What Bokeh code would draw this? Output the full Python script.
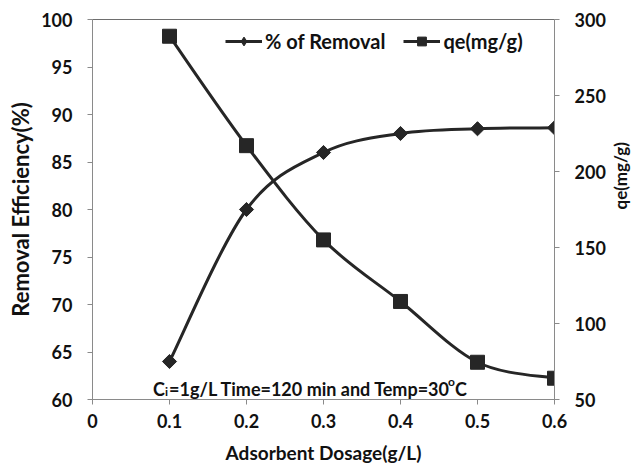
import math
from bokeh.plotting import figure
from bokeh.models import (Range1d, LinearAxis, FixedTicker, Legend, LegendItem, Label)
from bokeh.embed import file_html
from bokeh.resources import INLINE

# ---- data ----
dosage = [0.1, 0.2, 0.3, 0.4, 0.5, 0.6]
removal = [64.0, 80.0, 86.0, 88.0, 88.5, 88.6]
qe = [289.0, 217.0, 155.0, 114.5, 74.5, 64.0]
x_ticks = [0, 0.1, 0.2, 0.3, 0.4, 0.5, 0.6]
left_ticks = [60, 65, 70, 75, 80, 85, 90, 95, 100]
right_ticks = [50, 100, 150, 200, 250, 300]
x_label = "Adsorbent Dosage(g/L)"
left_label = "Removal Efficiency(%)"
right_label = "qe(mg/g)"
series_names = ["% of Removal", "qe(mg/g)"]

FONT = "Lato"
INK = "#262626"
AXC = "#8a8a8a"
TXT = "#111111"


def smooth_segments(xs, ys):
    """Bezier control points (Catmull-Rom style) for a smoothed line through the data."""
    n = len(xs)
    seg = dict(x0=[], y0=[], x1=[], y1=[], cx0=[], cy0=[], cx1=[], cy1=[])
    for i in range(n - 1):
        pxm, pym = (xs[i - 1], ys[i - 1]) if i > 0 else (xs[i], ys[i])
        pxp, pyp = (xs[i + 2], ys[i + 2]) if i + 2 < n else (xs[i + 1], ys[i + 1])
        seg["x0"].append(xs[i]); seg["y0"].append(ys[i])
        seg["x1"].append(xs[i + 1]); seg["y1"].append(ys[i + 1])
        seg["cx0"].append(xs[i] + (xs[i + 1] - pxm) / 6.0)
        seg["cy0"].append(ys[i] + (ys[i + 1] - pym) / 6.0)
        seg["cx1"].append(xs[i + 1] - (pxp - xs[i]) / 6.0)
        seg["cy1"].append(ys[i + 1] - (pyp - ys[i]) / 6.0)
    return seg


p = figure(width=644, height=469, x_range=Range1d(0, 0.6), y_range=Range1d(60, 100),
           output_backend="svg", toolbar_location=None,
           min_border_left=92, min_border_right=87, min_border_top=19, min_border_bottom=70)
p.extra_y_ranges = {"right": Range1d(50, 300)}
p.xgrid.visible = False
p.ygrid.visible = False
p.outline_line_color = "#6e6e6e"
p.outline_line_width = 1
p.background_fill_color = "white"
p.border_fill_color = "white"

# axes
xa = p.xaxis[0]
xa.ticker = FixedTicker(ticks=x_ticks)
xa.major_label_overrides = {0: "0"}
ya = p.yaxis[0]
ya.ticker = FixedTicker(ticks=left_ticks)
ra = LinearAxis(y_range_name="right", ticker=FixedTicker(ticks=right_ticks))
p.add_layout(ra, "right")

xa.axis_label = x_label
ya.axis_label = left_label
ra.axis_label = right_label

for ax in (xa, ya, ra):
    ax.axis_line_color = AXC
    ax.axis_line_width = 1
    ax.major_tick_line_color = AXC
    ax.major_tick_in = 0
    ax.major_tick_out = 5
    ax.minor_tick_line_color = None
    ax.major_label_text_font = FONT
    ax.major_label_text_font_style = "bold"
    ax.major_label_text_font_size = "18px"
    ax.major_label_text_color = TXT
    ax.axis_label_text_font = FONT
    ax.axis_label_text_font_style = "bold"
    ax.axis_label_text_color = TXT
xa.major_label_standoff = 9
ya.major_label_standoff = 15
ra.major_label_standoff = 15
xa.axis_label_text_font_size = "19px"
ya.axis_label_text_font_size = "22px"
ra.axis_label_text_font_size = "17px"
xa.axis_label_standoff = 10
ya.axis_label_standoff = 4
ra.axis_label_standoff = 12

# right axis title reads bottom-to-top in the reference
if "axis_label_orientation" in ra.properties():
    ra.axis_label_orientation = math.pi / 2

# series 1: % removal (left axis)
s1 = smooth_segments(dosage, removal)
b1 = p.bezier(source=s1, x0="x0", y0="y0", x1="x1", y1="y1", cx0="cx0", cy0="cy0",
              cx1="cx1", cy1="cy1", line_color=INK, line_width=3)
p.scatter(dosage, removal, marker="square", angle=math.pi / 4, size=10,
          fill_color=INK, line_color=INK)
d1 = p.scatter(dosage, removal, marker="diamond", size=12, fill_color=INK, line_color=INK)

# series 2: qe (right axis)
s2 = smooth_segments(dosage, qe)
b2 = p.bezier(source=s2, x0="x0", y0="y0", x1="x1", y1="y1", cx0="cx0", cy0="cy0",
              cx1="cx1", cy1="cy1", line_color=INK, line_width=3, y_range_name="right")
r2 = p.scatter(dosage, qe, marker="square", size=14, fill_color=INK, line_color=INK,
               y_range_name="right")

legend = Legend(items=[LegendItem(label=series_names[0], renderers=[b1, d1]),
                       LegendItem(label=series_names[1], renderers=[b2, r2])],
                orientation="horizontal", location=(133, 346),
                label_text_font=FONT, label_text_font_style="bold",
                label_text_font_size="20px", label_text_color=TXT,
                glyph_width=37, glyph_height=22, label_standoff=3, spacing=18,
                padding=0, margin=0, border_line_color=None,
                background_fill_alpha=0)
p.add_layout(legend)

# annotation: C_i=1g/L Time=120 min and Temp=30 ^o C
ax0 = (153 - 92) / 465 * 0.6
ay0 = 60 + (399 - 388) / 9.5
common = dict(text_font=FONT, text_font_style="bold", text_color=TXT,
              text_baseline="alphabetic", text_align="left")
p.add_layout(Label(x=ax0, y=ay0, text="C", text_font_size="18px", **common))
p.add_layout(Label(x=ax0, y=ay0, x_offset=12, y_offset=-3, text="i",
                   text_font_size="12px", **common))
p.add_layout(Label(x=ax0, y=ay0, x_offset=16, text="=1g/L Time=120 min and Temp=30",
                   text_font_size="18px", **common))
p.add_layout(Label(x=ax0, y=ay0, x_offset=295, y_offset=7, text="o",
                   text_font_size="12px", **common))
p.add_layout(Label(x=ax0, y=ay0, x_offset=302, text="C", text_font_size="18px", **common))

open("out.html", "w").write(file_html(p, INLINE))
